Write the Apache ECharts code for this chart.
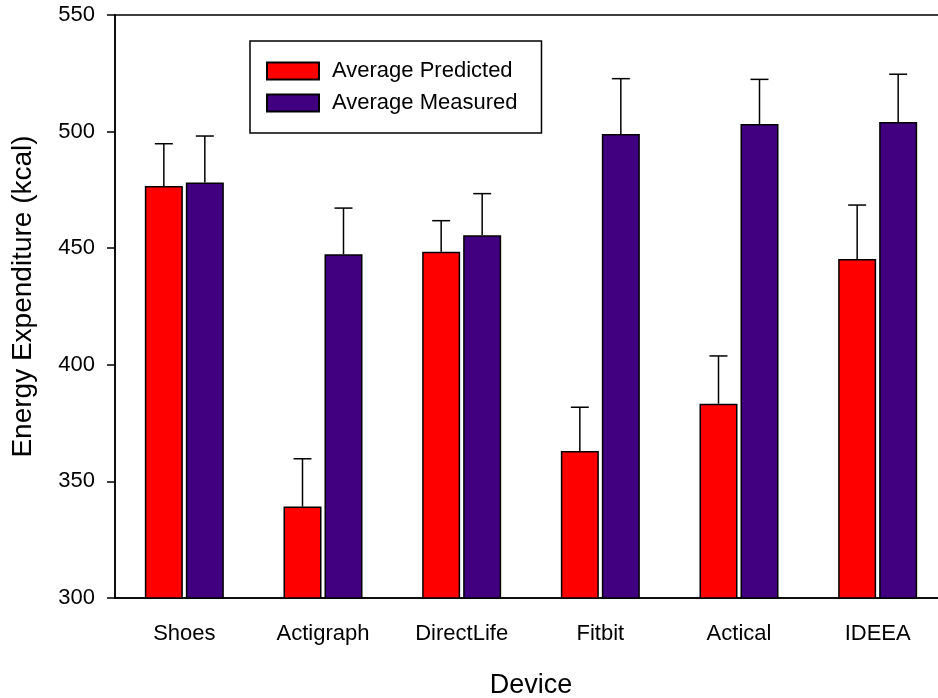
<!DOCTYPE html>
<html>
<head>
<meta charset="utf-8">
<script src="https://cdn.jsdelivr.net/npm/echarts@6/dist/echarts.min.js"></script>
<style>
html,body{margin:0;padding:0;background:#fff;}
#chart{width:938px;height:698px;}
</style>
</head>
<body>
<div id="chart"></div>
<script>
const categories = ['Shoes', 'Actigraph', 'DirectLife', 'Fitbit', 'Actical', 'IDEEA'];
const predicted = [476.7, 339.2, 448.5, 363.0, 383.3, 445.4];
const predictedErr = [18.1, 20.5, 13.3, 18.8, 20.5, 23.1];
const measured = [478.2, 447.4, 455.5, 499.0, 503.3, 504.1];
const measuredErr = [19.9, 19.8, 17.9, 23.7, 19.1, 20.5];
const yTicks = [300, 350, 400, 450, 500, 550];

const FONT = '"Liberation Sans", Arial, Helvetica, sans-serif';
const RED = '#ff0000';
const PURPLE = '#400080';
const BAR_W = 38;
const BAR_GAP = 3;

function errorSeries(name, values, errs, side) {
  return {
    type: 'custom',
    name: name + ' err',
    z: 5,
    silent: true,
    clip: false,
    data: values.map((v, i) => [i, v, v + errs[i]]),
    renderItem: function (params, api) {
      const base = api.coord([api.value(0), api.value(1)]);
      const top = api.coord([api.value(0), api.value(2)]);
      const off = side * (BAR_W + BAR_GAP) / 2;
      const x = base[0] + off;
      const capHalf = 9;
      const style = { stroke: '#000', lineWidth: 1.5 };
      return {
        type: 'group',
        children: [
          { type: 'line', shape: { x1: x, y1: base[1], x2: x, y2: top[1] }, style: style },
          { type: 'line', shape: { x1: x - capHalf, y1: top[1], x2: x + capHalf, y2: top[1] }, style: style }
        ]
      };
    }
  };
}

const chart = echarts.init(document.getElementById('chart'), null, { renderer: 'canvas' });
chart.setOption({
  animation: false,
  backgroundColor: '#ffffff',
  textStyle: { fontFamily: FONT },
  grid: {
    left: 115, width: 832, top: 15, bottom: 100,
    outerBoundsMode: 'none',
    containLabel: false,
    show: true, borderColor: '#000', borderWidth: 1.5, backgroundColor: 'transparent'
  },
  legend: {
    orient: 'vertical',
    left: 250, top: 41,
    padding: [19, 24, 19, 16],
    itemGap: 10,
    itemWidth: 52, itemHeight: 17,
    borderColor: '#000', borderWidth: 1.5,
    icon: 'rect',
    textStyle: { fontFamily: FONT, fontSize: 22, color: '#000', padding: [0, 0, 0, 8] },
    data: ['Average Predicted', 'Average Measured']
  },
  xAxis: {
    type: 'category',
    data: categories,
    name: 'Device',
    nameLocation: 'middle',
    nameGap: 74,
    nameTextStyle: { fontFamily: FONT, fontSize: 27, color: '#000' },
    axisLine: { lineStyle: { color: '#000', width: 1.5 } },
    axisTick: { alignWithLabel: true, length: 8, lineStyle: { color: '#000', width: 1.5 } },
    axisLabel: { fontFamily: FONT, fontSize: 22, color: '#000', margin: 25 },
    splitLine: { show: false }
  },
  yAxis: {
    type: 'value',
    min: 300, max: 550, interval: 50,
    name: 'Energy Expenditure (kcal)',
    nameLocation: 'middle',
    nameGap: 78,
    nameTextStyle: { fontFamily: FONT, fontSize: 28, color: '#000', padding: [0, 0, 0, 20] },
    axisLine: { show: true, lineStyle: { color: '#000', width: 1.5 } },
    axisTick: { show: true, length: 8, lineStyle: { color: '#000', width: 1.5 } },
    axisLabel: {
      fontFamily: FONT, fontSize: 22, color: '#000', margin: 20,
      formatter: function (v) { return yTicks.indexOf(v) >= 0 ? String(v) : ''; }
    },
    splitLine: { show: false }
  },
  series: [
    {
      name: 'Average Predicted', type: 'bar', data: predicted,
      barWidth: BAR_W, barGap: (BAR_GAP / BAR_W * 100).toFixed(1) + '%',
      itemStyle: { color: RED, borderColor: '#000', borderWidth: 1.5 }
    },
    {
      name: 'Average Measured', type: 'bar', data: measured,
      barWidth: BAR_W,
      itemStyle: { color: PURPLE, borderColor: '#000', borderWidth: 1.5 }
    },
    errorSeries('Average Predicted', predicted, predictedErr, -1),
    errorSeries('Average Measured', measured, measuredErr, 1)
  ]
});
</script>
</body>
</html>
